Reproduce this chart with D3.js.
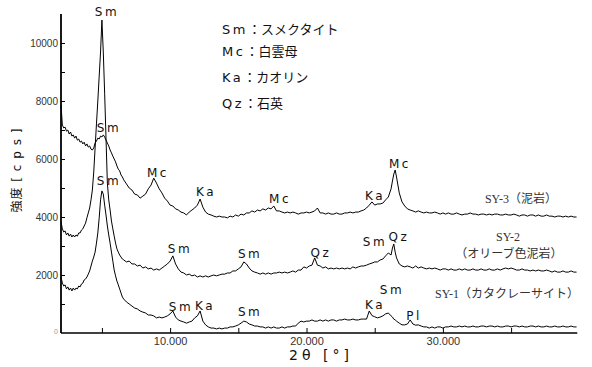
<!DOCTYPE html>
<html>
<head>
<meta charset="utf-8">
<script src="https://cdn.jsdelivr.net/npm/d3@7"></script>
<style>
  html, body { margin: 0; padding: 0; background: #fff; }
  svg { display: block; }
</style>
</head>
<body>
<svg id="chart" width="592" height="367"></svg>
<script>
// 2θ grid (degrees) shared by the three diffraction traces
const twoTheta = [
  2.0,2.1,2.2,2.3,2.4,2.5,2.6,2.7,2.8,2.9,
  3.0,3.1,3.2,3.3,3.4,3.5,3.6,3.7,3.8,3.9,
  4.0,4.1,4.2,4.3,4.4,4.5,4.6,4.7,4.8,4.9,
  5.0,5.1,5.2,5.3,5.4,5.5,5.6,5.7,5.8,5.9,
  6.0,6.1,6.2,6.3,6.4,6.5,
  6.6,6.8,
  7.0,7.2,7.4,7.6,7.8,
  8.0,8.2,8.4,8.6,8.8,
  9.0,9.2,9.4,9.6,9.8,
  10.0,10.2,10.4,10.6,10.8,
  11.0,11.2,11.4,11.6,11.8,
  12.0,12.2,12.4,12.6,12.8,
  13.0,
  13.2,13.4,13.6,13.8,14.0,
  14.2,14.4,14.6,14.8,15.0,
  15.2,15.4,15.6,15.8,16.0,
  16.2,16.4,16.6,16.8,17.0,
  17.2,17.4,17.6,17.8,18.0,
  18.2,18.4,18.6,18.8,19.0,
  19.2,19.4,19.6,19.8,20.0,
  20.2,20.4,20.6,20.8,21.0,
  21.2,21.4,21.6,21.8,22.0,
  22.2,22.4,22.6,22.8,23.0,
  23.2,23.4,23.6,23.8,24.0,
  24.2,24.4,24.6,24.8,25.0,
  25.2,25.4,25.6,25.8,26.0,
  26.2,26.3,26.4,26.5,26.6,26.8,27.0,
  27.2,27.4,27.6,27.8,28.0,
  28.2,28.4,28.6,28.8,29.0,
  29.2,29.4,29.6,29.8,30.0,
  30.2,30.4,30.6,30.8,31.0,
  31.2,31.4,31.6,31.8,32.0,
  32.2,32.4,32.6,32.8,33.0,
  33.2,33.4,33.6,33.8,34.0,
  34.2,34.4,34.6,34.8,35.0,
  35.2,35.4,35.6,35.8,36.0,
  36.2,36.4,36.6,36.8,37.0,
  37.2,37.4,37.6,37.8,38.0,
  38.2,38.4,38.6,38.8,39.0,
  39.2,39.4,39.6,39.8
];

// Intensities (cps) — SY-3 (泥岩)
const sy3 = [
  7860,7170,7070,7100,6960,7000,6860,6930,6790,6830,
  6720,6790,6650,6690,6580,6620,6520,6580,6450,6520,
  6410,6450,6340,6310,6380,6550,6620,6720,6690,6790,
  6760,6830,6760,6650,6550,6450,6310,6210,6100,6000,
  5900,5760,5650,5590,5450,5380,
  5280,5140,
  5000,4930,4790,4760,4650,
  4720,4790,4970,5100,5340,
  5170,4970,4830,4650,4550,
  4410,4380,4280,4240,4170,
  4140,4070,4170,4240,4310,
  4410,4620,4340,4170,4100,
  4070,
  4030,4000,4030,4000,4000,
  3970,4030,4000,4070,4030,
  4100,4070,4140,4140,4210,
  4170,4240,4210,4280,4240,
  4310,4280,4380,4210,4210,
  4170,4140,4170,4140,4170,
  4140,4100,4140,4140,4170,
  4140,4170,4210,4310,4140,
  4140,4100,4140,4100,4100,
  4140,4100,4100,4140,4140,
  4170,4140,4170,4170,4210,
  4240,4310,4410,4520,4410,
  4450,4450,4480,4590,4690,
  4970,5240,5480,5620,5380,4830,4520,
  4380,4280,4240,4210,4170,
  4210,4170,4140,4170,4140,
  4140,4170,4140,4100,4140,
  4100,4140,4100,4100,4140,
  4100,4070,4100,4100,4140,
  4100,4100,4070,4100,4100,
  4070,4100,4070,4100,4100,
  4070,4070,4100,4070,4070,
  4100,4070,4030,4070,4070,
  4030,4070,4070,4030,4070,
  4030,4030,4070,4030,4030,
  4000,4030,4030,4000,4030,
  4000,4030,4000,4000
];

// Intensities (cps) — SY-2 (オリーブ色泥岩)
const sy2 = [
  3830,3590,3480,3520,3380,3450,3340,3410,3310,3380,
  3310,3380,3340,3450,3450,3550,3590,3690,3790,3970,
  4140,4310,4590,4930,5550,6380,7210,8000,8860,9690,
  10790,9690,8270,6720,5170,4590,4240,3860,3590,3340,
  3100,2900,2790,2690,2620,2550,
  2520,2450,
  2480,2380,2380,2310,2340,
  2240,2280,2210,2240,2170,
  2210,2170,2240,2310,2380,
  2480,2660,2380,2210,2100,
  2070,2000,2030,1970,2000,
  1930,1970,1930,1970,1930,
  1970,
  2000,1970,2000,2030,2030,
  2070,2070,2140,2140,2210,
  2280,2450,2380,2240,2140,
  2100,2070,2030,2070,2030,
  2070,2030,2070,2070,2100,
  2070,2100,2070,2100,2140,
  2100,2170,2170,2280,2240,
  2310,2340,2590,2340,2310,
  2240,2280,2210,2240,2210,
  2240,2210,2240,2210,2240,
  2210,2280,2240,2280,2310,
  2310,2340,2380,2410,2450,
  2450,2520,2550,2660,2760,
  2690,2930,3070,2790,2590,2380,2310,
  2280,2310,2280,2240,2310,
  2240,2280,2240,2210,2240,
  2210,2240,2210,2170,2210,
  2210,2170,2210,2170,2170,
  2210,2170,2210,2170,2170,
  2210,2170,2170,2210,2170,
  2170,2210,2170,2170,2210,
  2170,2210,2240,2210,2240,
  2210,2170,2170,2210,2170,
  2170,2140,2170,2140,2170,
  2140,2140,2170,2140,2100,
  2140,2100,2100,2140,2100,
  2100,2140,2100,2100
];

// Intensities (cps) — SY-1 (カタクレーサイト)
const sy1 = [
  1930,1720,1620,1660,1520,1590,1480,1550,1450,1550,
  1480,1550,1520,1620,1590,1690,1720,1830,1860,1930,
  2030,2140,2310,2480,2620,2790,3100,3450,3970,4590,
  4900,4790,4410,4070,3690,3380,3100,2790,2480,2170,
  1970,1790,1660,1520,1380,1240,
  1170,1070,
  1000,930,860,830,760,
  720,690,620,620,590,
  520,550,520,550,590,
  660,760,550,450,410,
  380,340,380,410,520,
  590,760,410,280,210,
  170,
  170,140,170,140,170,
  170,210,210,240,280,
  340,410,380,310,280,
  240,240,210,210,170,
  210,170,210,170,170,
  210,170,210,210,240,
  240,340,410,380,410,
  410,450,410,410,450,
  410,450,410,450,450,
  410,450,450,480,450,
  450,480,450,450,480,
  480,480,760,600,560,
  520,550,590,660,690,
  590,550,480,450,410,340,280,
  280,310,450,310,270,
  280,240,210,210,170,
  210,170,210,210,170,
  210,210,240,210,210,
  240,210,240,210,210,
  240,210,210,240,240,
  210,240,240,210,240,
  210,210,240,240,210,
  240,240,210,240,210,
  210,240,240,210,240,
  210,210,240,210,210,
  240,210,210,240,210,
  210,240,210,210
];

// Axis ticks
const yTicks = [1000,2000,3000,4000,5000,6000,7000,8000,9000,10000];
const yTickLabels = [2000,4000,6000,8000,10000];
const xTicks = [5,10,15,20,25,30,35];
const xTickLabels = [10,20,30];

// Peak annotations: mineral code, 2θ and intensity where the label sits
const peakNames = ["Sm","Sm","Sm","Mc","Ka","Mc","Ka","Mc",
                   "Sm","Sm","Qz","Sm","Qz",
                   "Sm","Ka","Sm","Ka","Sm","Pl"];
const peakTheta = [5.37,5.52,5.52,9.11,12.63,18.06,25.02,26.85,
                   10.72,15.86,21.06,25.02,26.78,
                   10.80,12.56,15.86,25.02,26.27,27.88];
const peakCps   = [11070,7070,5240,5520,4860,4620,4720,5830,
                   2900,2720,2760,3140,3310,
                   900,930,720,970,1480,590];

// Sample names beside each trace
const sampleNames = ["SY-3（泥岩）","SY-2","（オリーブ色泥岩）","SY-1（カタクレーサイト）"];
const sampleTheta = [35.72,34.77,34.84,34.70];
const sampleCps   = [4620,3310,2720,1340];

// Mineral key
const legendCodes = ["Sm","Mc","Ka","Qz"];
const legendMinerals = ["スメクタイト","白雲母","カオリン","石英"];

const svg = d3.select("#chart");
svg.append("rect").attr("width", 592).attr("height", 367).attr("fill", "#fff");

const x = d3.scaleLinear().domain([2, 40]).range([61, 579.3]);
const y = d3.scaleLinear().domain([0, 11000]).range([333, 14]);

const labelFont = "'DejaVu Sans', 'Noto Sans CJK JP', sans-serif";
const tickFont = "'Liberation Sans', Arial, sans-serif";
const serifFont = "'Liberation Serif', 'Noto Sans CJK JP', serif";

// Traces
const line = d3.line().x(d => x(d[0])).y(d => y(d[1]));
[sy3, sy2, sy1].forEach(vals => {
  const pts = twoTheta.map((t, i) => [t, vals[i]]).filter(p => p[1] != null);
  svg.append("path")
    .datum(pts)
    .attr("d", line)
    .attr("fill", "none")
    .attr("stroke", "#000")
    .attr("stroke-width", 1)
    .attr("stroke-linejoin", "round");
});

// Y axis (ticks point into the plot)
const yAxis = d3.axisLeft(y)
  .tickValues(yTicks)
  .tickSizeInner(-4)
  .tickSizeOuter(0)
  .tickPadding(3)
  .tickFormat(d => yTickLabels.includes(d) ? String(d) : "");
const gy = svg.append("g").attr("transform", `translate(${x(2)},0)`).call(yAxis);
gy.select(".domain").remove();
gy.selectAll(".tick line").attr("stroke", "#000");
gy.selectAll(".tick text").attr("font-family", tickFont).attr("font-size", 10).attr("fill", "#333");
svg.append("line")
  .attr("x1", x(2)).attr("x2", x(2))
  .attr("y1", y(0)).attr("y2", y(11000))
  .attr("stroke", "#000").attr("stroke-width", 1.8);
svg.append("text")
  .attr("x", x(2) - 3).attr("y", y(0) + 1)
  .attr("text-anchor", "end")
  .attr("font-family", tickFont).attr("font-size", 7).attr("fill", "#999")
  .text("0");

// X axis
const xAxis = d3.axisBottom(x)
  .tickValues(xTicks)
  .tickSizeInner(-5)
  .tickSizeOuter(0)
  .tickPadding(4)
  .tickFormat(d => xTickLabels.includes(d) ? d3.format(".3f")(d) : "");
const gx = svg.append("g").attr("transform", `translate(0,${y(0)})`).call(xAxis);
gx.select(".domain").remove();
gx.selectAll(".tick line").attr("stroke", "#000");
gx.selectAll(".tick text").attr("font-family", tickFont).attr("font-size", 11).attr("fill", "#333");
svg.append("line")
  .attr("x1", x(2)).attr("x2", x(39.85))
  .attr("y1", y(0)).attr("y2", y(0))
  .attr("stroke", "#000").attr("stroke-width", 1.3);

// Axis titles
svg.append("text")
  .attr("x", 321).attr("y", 355)
  .attr("text-anchor", "middle").attr("dominant-baseline", "central")
  .attr("font-family", labelFont).attr("font-size", 14).attr("letter-spacing", 4)
  .attr("fill", "#111")
  .text("2θ [°]");
svg.append("text")
  .attr("transform", "translate(17,170) rotate(-90)")
  .attr("text-anchor", "middle").attr("dominant-baseline", "central")
  .attr("font-family", labelFont).attr("font-size", 12).attr("letter-spacing", 1)
  .attr("fill", "#111")
  .text("強度 [ c p s ]");

// Peak labels
svg.append("g").selectAll("text")
  .data(peakNames.map((n, i) => ({ n, t: peakTheta[i], c: peakCps[i] })))
  .join("text")
  .attr("x", d => x(d.t)).attr("y", d => y(d.c))
  .attr("text-anchor", "middle").attr("dominant-baseline", "central")
  .attr("font-family", labelFont).attr("font-size", 12).attr("letter-spacing", 2.5)
  .attr("fill", "#111")
  .text(d => d.n);

// Sample names
svg.append("g").selectAll("text")
  .data(sampleNames.map((n, i) => ({ n, t: sampleTheta[i], c: sampleCps[i] })))
  .join("text")
  .attr("x", d => x(d.t)).attr("y", d => y(d.c))
  .attr("text-anchor", "middle").attr("dominant-baseline", "central")
  .attr("font-family", serifFont).attr("font-size", 12)
  .attr("fill", "#333")
  .text(d => d.n);

// Mineral key
const keyRows = [29, 51, 77, 103];
const key = svg.append("g").attr("transform", "translate(222,0)");
legendCodes.forEach((code, i) => {
  const t = key.append("text")
    .attr("x", 0).attr("y", keyRows[i])
    .attr("dominant-baseline", "central")
    .attr("font-family", labelFont).attr("font-size", 13)
    .attr("fill", "#111");
  t.append("tspan").attr("letter-spacing", 2.5).text(code);
  t.append("tspan").text("：" + legendMinerals[i]);
});
</script>
</body>
</html>
